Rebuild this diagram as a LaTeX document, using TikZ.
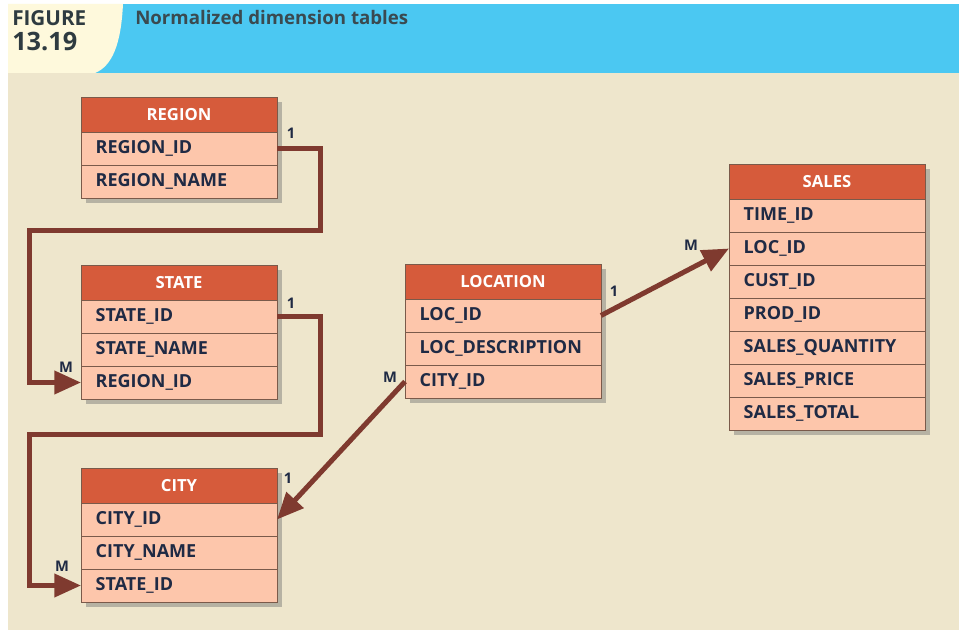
\documentclass[tikz,border=0pt]{standalone}
\usepackage{fontspec}
\setmainfont{Open Sans}
\usetikzlibrary{positioning,arrows.meta,shadows}

\definecolor{pagebeige}{HTML}{EEE6CC}
\definecolor{bandblue}{HTML}{4BC8F2}
\definecolor{bandcream}{HTML}{FEF9DC}
\definecolor{headred}{HTML}{D65B3B}
\definecolor{rowpink}{HTML}{FDC6AB}
\definecolor{rowline}{HTML}{7A5A4A}
\definecolor{txtdark}{HTML}{1F2A44}
\definecolor{linkbrown}{HTML}{7F3A2F}
\definecolor{titleslate}{HTML}{3A4A50}

\begin{document}
\begin{tikzpicture}[x=0.75pt,y=-0.75pt,
    tblhead/.style={draw=rowline,line width=0.6pt,fill=headred,text=white,
        font=\fontsize{12.5}{14}\selectfont\bfseries,
        minimum width=147pt,minimum height=26.25pt,inner sep=0pt,outer sep=0pt,anchor=north west,
        drop shadow={shadow xshift=3.5pt,shadow yshift=-3.5pt,fill=black!55,opacity=0.45}},
    field/.style={draw=rowline,line width=0.6pt,fill=rowpink,text=txtdark,
        font=\fontsize{13.5}{15}\selectfont\bfseries,
        text width=125pt,inner xsep=11pt,inner ysep=0pt,outer sep=0pt,align=left,
        minimum height=24.75pt,below=0pt of #1,
        drop shadow={shadow xshift=3.5pt,shadow yshift=-3.5pt,fill=black!55,opacity=0.45}},
    rel/.style={draw=linkbrown,line width=3.75pt,-{Triangle[length=20pt,width=17pt]}},
    card/.style={text=txtdark,font=\fontsize{11}{13}\selectfont\bfseries,inner sep=0pt}]

\useasboundingbox (0,0) rectangle (959,630);
\fill[white] (0,0) rectangle (959,630);
\fill[pagebeige] (8,4) rectangle (959,630);

% caption band
\fill[bandblue] (8,4) rectangle (959,73);
\fill[bandcream] (8,4) -- (123,4) .. controls (121,45) and (112,66) .. (95,73) -- (8,73) -- cycle;
\node[anchor=west,text=titleslate!80!black,font=\fontsize{15.5}{17}\selectfont\bfseries,inner sep=0pt] (figword) at (12,18) {FIGURE};
\node[anchor=west,text=titleslate!80!black,font=\fontsize{19}{21}\selectfont\bfseries,inner sep=0pt] (fignum) at (12,42) {13.19};
\node[anchor=west,text=titleslate,font=\fontsize{14}{16}\selectfont\bfseries,inner sep=0pt] (figtitle) at (135,18) {Normalized dimension tables};

% REGION
\node[tblhead] (region) at (81,97) {REGION};
\node[field=region] (regionid) {REGION\_ID};
\node[field=regionid] (regionname) {REGION\_NAME};

% STATE
\node[tblhead] (state) at (81,265) {STATE};
\node[field=state] (stateid) {STATE\_ID};
\node[field=stateid] (statename) {STATE\_NAME};
\node[field=statename] (stateregion) {REGION\_ID};

% CITY
\node[tblhead] (city) at (81,468) {CITY};
\node[field=city] (cityid) {CITY\_ID};
\node[field=cityid] (cityname) {CITY\_NAME};
\node[field=cityname] (citystate) {STATE\_ID};

% LOCATION
\node[tblhead] (location) at (405,264) {LOCATION};
\node[field=location] (locid) {LOC\_ID};
\node[field=locid] (locdesc) {LOC\_DESCRIPTION};
\node[field=locdesc] (loccity) {CITY\_ID};

% SALES
\node[tblhead] (sales) at (729,164) {SALES};
\node[field=sales] (salestime) {TIME\_ID};
\node[field=salestime] (salesloc) {LOC\_ID};
\node[field=salesloc] (salescust) {CUST\_ID};
\node[field=salescust] (salesprod) {PROD\_ID};
\node[field=salesprod] (salesqty) {SALES\_QUANTITY};
\node[field=salesqty] (salesprice) {SALES\_PRICE};
\node[field=salesprice] (salestotal) {SALES\_TOTAL};

% relationships
\draw[rel] (regionid.east) -| (320,231) -| ([xshift=-39pt]stateregion.west) -- (stateregion.west);
\draw[rel] (stateid.east) -| (320,434) -| ([xshift=-39pt]citystate.west) -- (citystate.west);
\draw[rel] (loccity.west) -- (cityid.east);
\draw[rel] (locid.east) -- (salesloc.west);

% cardinalities
\node[card] (oneregion) at (291,133) {1};
\node[card] (manystate) at (66,367) {M};
\node[card] (onestate) at (291,303) {1};
\node[card] (manycity) at (62,566) {M};
\node[card] (onecity) at (288,478) {1};
\node[card] (manyloc) at (390,377) {M};
\node[card] (oneloc) at (614,291) {1};
\node[card] (manysales) at (691,245) {M};
\end{tikzpicture}
\end{document}
